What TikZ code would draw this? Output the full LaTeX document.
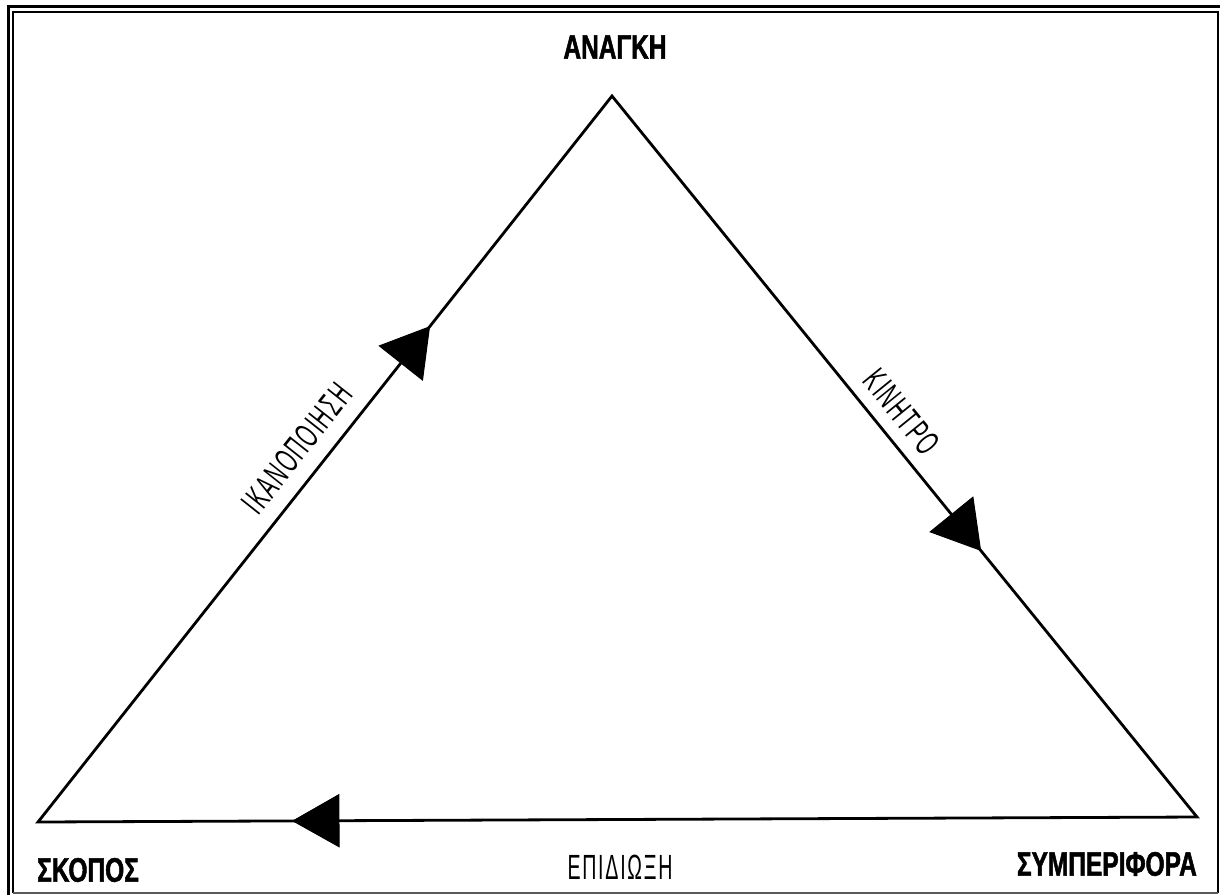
\documentclass[tikz,border=0pt]{standalone}
\usepackage{fontspec}
\setmainfont{Liberation Sans}
\newfontfamily\headfont{Liberation Sans}[FakeStretch=0.72, BoldFeatures={FakeBold=1.5}]
\newfontfamily\labfont{Liberation Sans}[FakeStretch=0.56, LetterSpace=5]
\usetikzlibrary{calc}
\begin{document}
\begin{tikzpicture}[x=1pt,y=-1pt,
  edge/.style={line width=2.8pt, line join=miter},
  head/.style={font=\headfont\bfseries\fontsize{34}{40}\selectfont, inner sep=0pt},
  lab/.style={font=\labfont\fontsize{35}{40}\selectfont, inner sep=0pt},
  tri/.style={fill=black, draw=black, line width=1pt, line join=miter}]
\useasboundingbox (0,0) rectangle (1220,895);
\fill[white] (0,0) rectangle (1220,895);
% frame
\draw[line width=3pt] (8.5,895) -- (8.5,6) -- (1220,6);
\draw[line width=2pt] (13,893) -- (13,12) -- (1217.5,12) -- (1217.5,893);
\draw[line width=1.2pt, black!65] (13,893) -- (1217.5,893);
% vertices
\coordinate (A) at (612,96);
\coordinate (S) at (38,822);
\coordinate (P) at (1197,817);
% triangle
\draw[edge] (S) -- (A) -- (P) -- cycle;
% edge labels
\path (S) -- (A) node[lab, pos=0.49, sloped, above=16pt] (ikan) {ΙΚΑΝΟΠΟΙΗΣΗ};
\path (A) -- (P) node[lab, pos=0.461, sloped, above=13.5pt] (kin) {ΚΙΝΗΤΡΟ};
\node[lab] (epi) at (620,867) {ΕΠΙΔΙΩΞΗ};
% vertex labels
\node[head] (anagki) at (615,47) {ΑΝΑΓΚΗ};
\node[head, anchor=west] (skopos) at (37,870) {ΣΚΟΠΟΣ};
\node[head, anchor=east] (symp) at (1197,864) {ΣΥΜΠΕΡΙΦΟΡΑ};
% arrowheads
\coordinate (t1) at ($(S)!0.682!(A)$);
\coordinate (b1) at ($(t1)!46pt!(S)$);
\fill[tri] (t1) -- ($(b1)!27.5pt!90:(t1)$) -- ($(b1)!27.5pt!-90:(t1)$) -- cycle;
\coordinate (t2) at ($(A)!0.63!(P)$);
\coordinate (b2) at ($(t2)!46pt!(A)$);
\fill[tri] (t2) -- ($(b2)!27.5pt!90:(t2)$) -- ($(b2)!27.5pt!-90:(t2)$) -- cycle;
\coordinate (t3) at ($(P)!0.78!(S)$);
\coordinate (b3) at ($(t3)!46pt!(P)$);
\fill[tri] (t3) -- ($(b3)!26pt!90:(t3)$) -- ($(b3)!26pt!-90:(t3)$) -- cycle;
\end{tikzpicture}
\end{document}
